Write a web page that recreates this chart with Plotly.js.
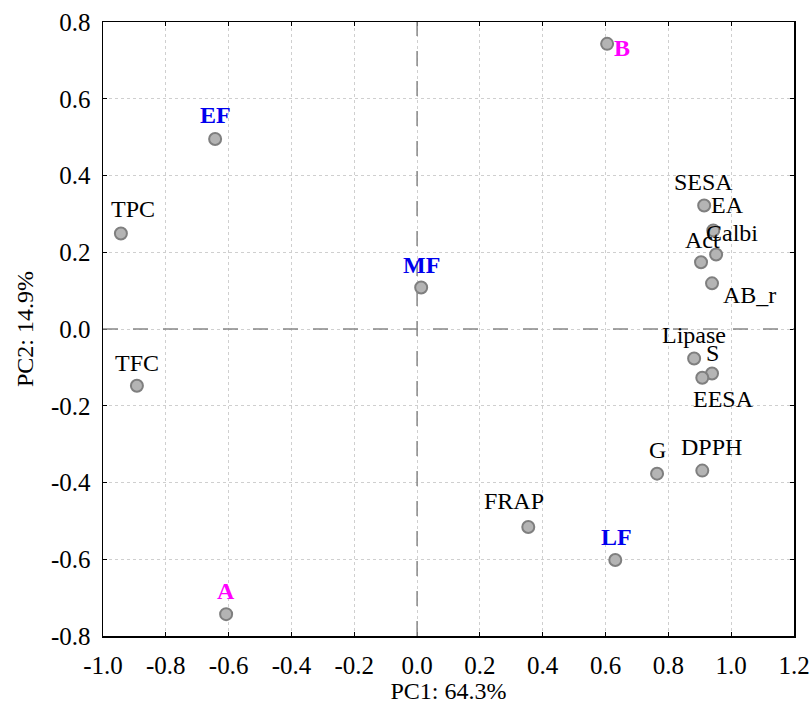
<!DOCTYPE html>
<html>
<head>
<meta charset="utf-8">
<script src="https://cdn.plot.ly/plotly-3.0.1.min.js"></script>
<style>html,body{margin:0;padding:0;background:#fff;}#chart{width:811px;height:718px;}</style>
</head>
<body>
<div id="chart"></div>
<script>
// Data (PCA scores/loadings)
const labels = ["B","EF","TPC","MF","TFC","A","FRAP","LF","G","DPPH","SESA","EA","Calbi","Act","AB_r","Lipase","S","EESA"];
const pc1 = [0.605,-0.643,-0.943,0.013,-0.892,-0.608,0.354,0.631,0.764,0.908,0.914,0.943,0.952,0.904,0.939,0.882,0.939,0.908];
const pc2 = [0.743,0.495,0.249,0.108,-0.148,-0.743,-0.516,-0.602,-0.377,-0.369,0.322,0.257,0.194,0.174,0.119,-0.077,-0.116,-0.127];
const xTicks = [-1.0,-0.8,-0.6,-0.4,-0.2,0.0,0.2,0.4,0.6,0.8,1.0,1.2];
const yTicks = [-0.8,-0.6,-0.4,-0.2,0.0,0.2,0.4,0.6,0.8];

// Styling (label pixel offsets and colours)
const sampleGroupA = ["A","B"];
const sampleGroupF = ["EF","MF","LF"];
const labelDx = {B:15,EF:0,TPC:12,MF:0,TFC:0,A:0,FRAP:-14,LF:1,G:0,DPPH:9,SESA:-1,EA:14,Calbi:16,Act:1,AB_r:37,Lipase:0,S:0,EESA:21};
const labelDy = {B:4,EF:-24,TPC:-24,MF:-23,TFC:-23,A:-23,FRAP:-26,LF:-23,G:-24,DPPH:-24,SESA:-23,EA:-25,Calbi:-22,Act:-22,AB_r:12,Lipase:-24,S:-21,EESA:21};

const FONT = "Liberation Serif, Times New Roman, serif";
const FS = 25;

const annotations = labels.map((t,i)=>{
  let color = "#000000", txt = t;
  if (sampleGroupA.includes(t)) { color = "#ff00ff"; txt = "<b>"+t+"</b>"; }
  else if (sampleGroupF.includes(t)) { color = "#0000ee"; txt = "<b>"+t+"</b>"; }
  return {
    x: pc1[i], y: pc2[i], xref:"x", yref:"y", text: txt, showarrow:false,
    xanchor:"center", yanchor:"middle",
    xshift: labelDx[t], yshift: -labelDy[t],
    font:{family:FONT, size:FS-1, color:color}
  };
});

const trace = {
  x: pc1, y: pc2, mode:"markers", type:"scatter",
  marker:{size:12, color:"#b4b4b4", line:{color:"#7f7f7f", width:2}},
  hoverinfo:"text", text: labels
};

const axisCommon = {
  showline:true, linecolor:"#000", linewidth:1.5, mirror:"ticks",
  ticks:"inside", ticklen:4, tickcolor:"#000",
  showgrid:true, gridcolor:"#cfcfcf", griddash:"dot", gridwidth:1,
  zeroline:false,
  tickfont:{family:FONT, size:FS, color:"#000"}
};

const layout = {
  width:811, height:718,
  margin:{l:103, r:17, t:22, b:82},
  paper_bgcolor:"#fff", plot_bgcolor:"#fff",
  showlegend:false,
  xaxis: Object.assign({}, axisCommon, {
    range:[-1.0,1.2], tickvals:xTicks, ticktext:xTicks.map(v=>v.toFixed(1)),
    ticklabelstandoff:6,
    title:{text:"PC1: 64.3%", font:{family:FONT, size:FS-1, color:"#000"}, standoff:0}
  }),
  yaxis: Object.assign({}, axisCommon, {
    range:[-0.8,0.8], tickvals:yTicks, ticktext:yTicks.map(v=>v.toFixed(1)),
    ticklabelstandoff:6,
    title:{text:"PC2: 14.9%", font:{family:FONT, size:FS-1, color:"#000"}, standoff:10}
  }),
  shapes:[
    {type:"line", xref:"x", yref:"paper", x0:0, x1:0, y0:0, y1:1, line:{color:"#888", width:1.5, dash:"longdash"}},
    {type:"line", xref:"paper", yref:"y", x0:0, x1:1, y0:0, y1:0, line:{color:"#888", width:1.5, dash:"longdash"}}
  ],
  annotations: annotations
};

Plotly.newPlot("chart", [trace], layout, {displayModeBar:false, staticPlot:true});
</script>
</body>
</html>
